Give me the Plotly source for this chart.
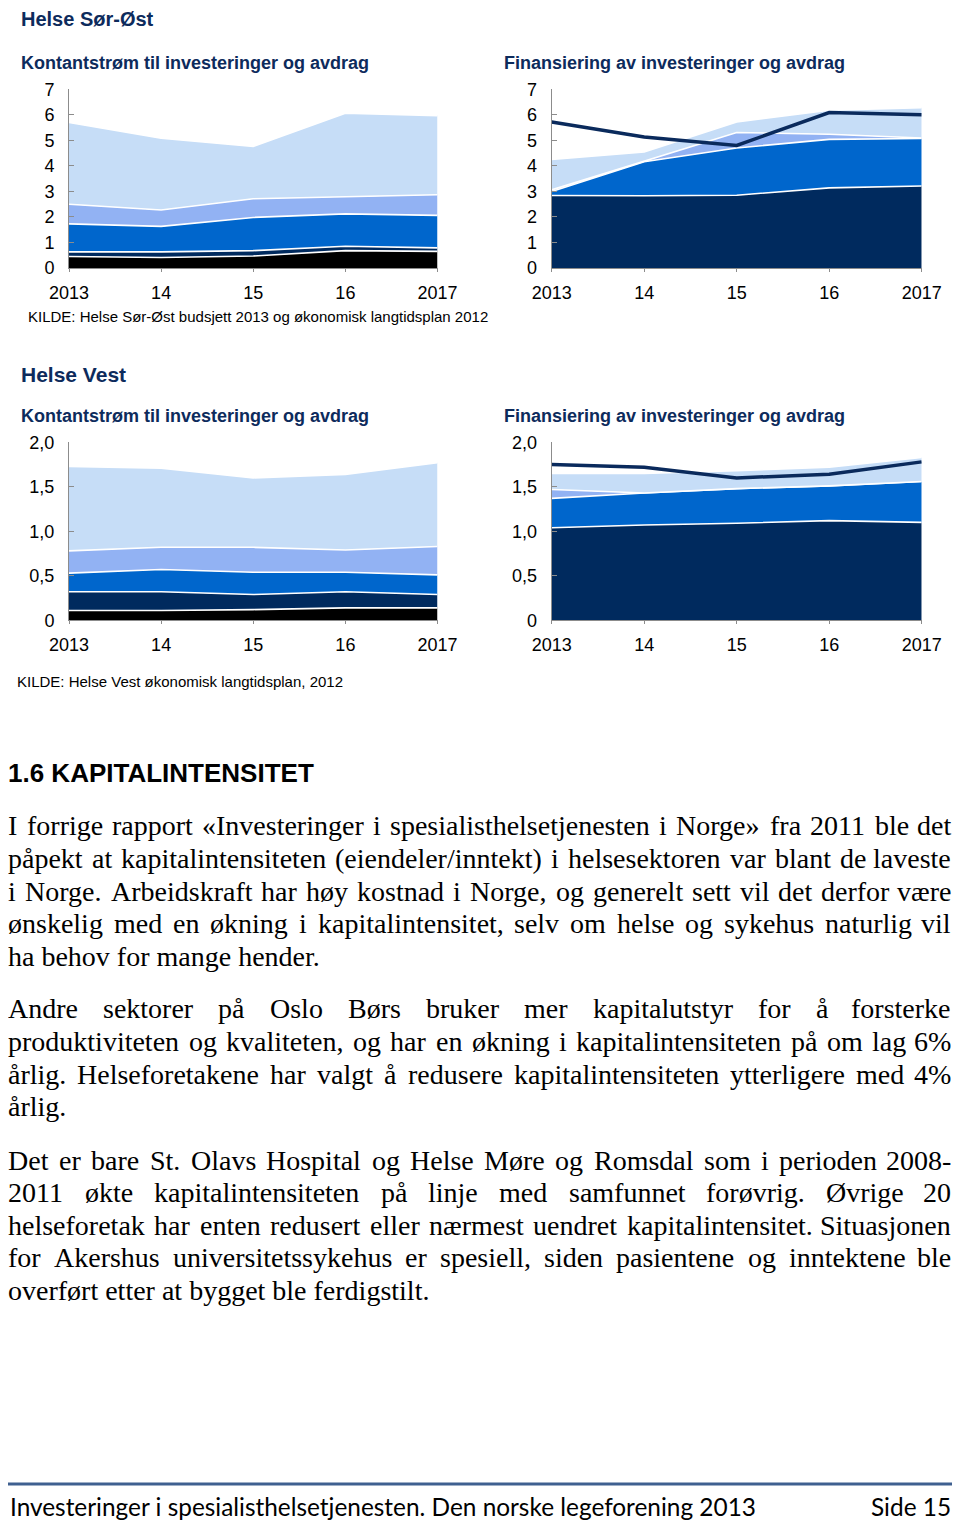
import plotly.graph_objects as go

# page is 960x1523; the html body adds an 8px margin, so the figure is 8px smaller
OFF = 8
W, H = 960 - OFF, 1523 - OFF

# ---------------- data ----------------
years = [2013, 2014, 2015, 2016, 2017]
year_labels = ["2013", "14", "15", "16", "2017"]

# Helse Sør-Øst – Kontantstrøm (layer thickness, bottom -> top)
so_cash_black = [0.45, 0.41, 0.47, 0.68, 0.65]
so_cash_navy = [0.18, 0.22, 0.21, 0.17, 0.14]
so_cash_medium = [1.10, 1.00, 1.30, 1.27, 1.27]
so_cash_peri = [0.77, 0.64, 0.73, 0.68, 0.81]
so_cash_light = [3.20, 2.81, 2.05, 3.26, 3.10]

# Helse Sør-Øst – Finansiering
so_fin_navy = [2.84, 2.83, 2.85, 3.14, 3.21]
so_fin_medium = [0.16, 1.33, 1.85, 1.90, 1.86]
so_fin_peri = [0.06, 0.03, 0.61, 0.20, 0.02]
so_fin_light = [1.19, 0.36, 0.41, 0.94, 1.19]
so_fin_line = [5.72, 5.13, 4.80, 6.09, 6.00]

# Helse Vest – Kontantstrøm
hv_cash_black = [0.11, 0.11, 0.12, 0.14, 0.14]
hv_cash_navy = [0.21, 0.21, 0.17, 0.18, 0.15]
hv_cash_medium = [0.21, 0.25, 0.25, 0.22, 0.22]
hv_cash_peri = [0.25, 0.25, 0.28, 0.25, 0.32]
hv_cash_light = [0.95, 0.89, 0.78, 0.85, 0.94]

# Helse Vest – Finansiering
hv_fin_navy = [1.04, 1.07, 1.09, 1.12, 1.10]
hv_fin_medium = [0.33, 0.36, 0.39, 0.39, 0.46]
hv_fin_peri = [0.10, 0.00, 0.00, 0.00, 0.00]
hv_fin_light = [0.18, 0.22, 0.20, 0.21, 0.27]
hv_fin_line = [1.75, 1.72, 1.60, 1.64, 1.78]

so_yticks = [0, 1, 2, 3, 4, 5, 6, 7]
so_yticktext = ["0", "1", "2", "3", "4", "5", "6", "7"]
hv_yticks = [0, 0.5, 1.0, 1.5, 2.0]
hv_yticktext = ["0", "0,5", "1,0", "1,5", "2,0"]

# ---------------- styles ----------------
C_BLACK = "#000000"
C_NAVY = "#002a5e"
C_MED = "#0066cc"
C_PERI = "#92b2f3"
C_LIGHT = "#c6ddf7"
C_LINE = "#0a2a5c"
C_TITLE = "#0d2b5c"
SANS = "Liberation Sans, Arial, sans-serif"
SERIF = "Liberation Serif, Times New Roman, serif"


def px_x(x):
    return (x - OFF) / W


def px_y(y):
    return 1 - (y - OFF) / H


fig = go.Figure()


def add_stack(xa, ya, layers, group):
    for vals, col in layers:
        fig.add_trace(go.Scatter(
            x=years, y=vals, xaxis=xa, yaxis=ya, stackgroup=group,
            mode="lines", line=dict(color="white", width=1.6),
            fillcolor=col, showlegend=False, hoverinfo="skip"))


add_stack("x", "y", [(so_cash_black, C_BLACK), (so_cash_navy, C_NAVY), (so_cash_medium, C_MED),
                     (so_cash_peri, C_PERI), (so_cash_light, C_LIGHT)], "a")
add_stack("x2", "y2", [(so_fin_navy, C_NAVY), (so_fin_medium, C_MED),
                       (so_fin_peri, C_PERI), (so_fin_light, C_LIGHT)], "b")
fig.add_trace(go.Scatter(x=years, y=so_fin_line, xaxis="x2", yaxis="y2", mode="lines",
                         line=dict(color=C_LINE, width=3.5), showlegend=False, hoverinfo="skip"))
add_stack("x3", "y3", [(hv_cash_black, C_BLACK), (hv_cash_navy, C_NAVY), (hv_cash_medium, C_MED),
                       (hv_cash_peri, C_PERI), (hv_cash_light, C_LIGHT)], "c")
add_stack("x4", "y4", [(hv_fin_navy, C_NAVY), (hv_fin_medium, C_MED),
                       (hv_fin_peri, C_PERI), (hv_fin_light, C_LIGHT)], "d")
fig.add_trace(go.Scatter(x=years, y=hv_fin_line, xaxis="x4", yaxis="y4", mode="lines",
                         line=dict(color=C_LINE, width=3.5), showlegend=False, hoverinfo="skip"))

# ---------------- axes ----------------
TICKFONT = dict(family=SANS, size=18, color="#000000")


def xaxis(dom, anchor):
    return dict(domain=dom, anchor=anchor, range=[2013, 2017], tickvals=years, ticktext=year_labels,
                showgrid=False, zeroline=False, showline=True, linecolor="#8c8c8c", linewidth=1,
                ticks="outside", ticklen=3, tickcolor="#8c8c8c", tickfont=TICKFONT,
                ticklabelstandoff=5, fixedrange=True, automargin=False)


def yaxis(dom, anchor, rng, tv, tt):
    return dict(domain=dom, anchor=anchor, range=rng, tickvals=tv, ticktext=tt,
                showgrid=False, zeroline=False, showline=True, linecolor="#8c8c8c", linewidth=1,
                ticks="inside", ticklen=5, tickcolor="#8c8c8c", tickfont=TICKFONT,
                ticklabelstandoff=10, fixedrange=True, automargin=False)


L_X = [px_x(69), px_x(437.5)]
R_X = [px_x(551.7), px_x(921.7)]
T_Y = [px_y(268), px_y(89.3)]
B_Y = [px_y(620.3), px_y(442.3)]

fig.update_layout(
    xaxis=xaxis(L_X, "y"), yaxis=yaxis(T_Y, "x", [0, 7], so_yticks, so_yticktext),
    xaxis2=xaxis(R_X, "y2"), yaxis2=yaxis(T_Y, "x2", [0, 7], so_yticks, so_yticktext),
    xaxis3=xaxis(L_X, "y3"), yaxis3=yaxis(B_Y, "x3", [0, 2], hv_yticks, hv_yticktext),
    xaxis4=xaxis(R_X, "y4"), yaxis4=yaxis(B_Y, "x4", [0, 2], hv_yticks, hv_yticktext),
)

# ---------------- text ----------------
anns = []


def text(s, x, y, size, color="#000000", family=SANS, bold=False, xanchor="left"):
    anns.append(dict(text=s, x=px_x(x), y=px_y(y), xref="paper", yref="paper",
                     xanchor=xanchor, yanchor="middle", showarrow=False,
                     font=dict(family=family, size=size, color=color,
                               weight="bold" if bold else "normal")))


text("Helse Sør-Øst", 19, 19, 20, C_TITLE, bold=True)
text("Kontantstrøm til investeringer og avdrag", 19, 63, 18, C_TITLE, bold=True)
text("Finansiering av investeringer og avdrag", 502, 63, 18, C_TITLE, bold=True)
text("KILDE: Helse Sør-Øst budsjett 2013 og økonomisk langtidsplan 2012", 26, 316, 15)
text("Helse Vest", 19, 374, 21, C_TITLE, bold=True)
text("Kontantstrøm til investeringer og avdrag", 19, 416, 18, C_TITLE, bold=True)
text("Finansiering av investeringer og avdrag", 502, 416, 18, C_TITLE, bold=True)
text("KILDE: Helse Vest økonomisk langtidsplan, 2012", 15, 681, 15)
text("1.6 KAPITALINTENSITET", 6, 773, 26, bold=True)

# Times New Roman advance widths (1/1000 em) for justification
TW = {' ': 250, ',': 250, '.': 250, '-': 333, '(': 333, ')': 333, '/': 278, '%': 833, ':': 278,
      '«': 500, '»': 500, 'å': 444, 'ø': 500, 'æ': 667, 'Ø': 722}
TW.update({d: 500 for d in "0123456789"})
TW.update(dict(zip("ABCDEFGHIJKLMNOPQRSTUVWXYZ",
                   [722, 667, 667, 722, 611, 556, 722, 722, 333, 389, 722, 611, 889, 722, 722, 556,
                    722, 667, 556, 611, 722, 722, 944, 722, 722, 611])))
TW.update(dict(zip("abcdefghijklmnopqrstuvwxyz",
                   [444, 500, 444, 500, 444, 333, 500, 500, 278, 278, 500, 278, 778, 500, 500, 500,
                    500, 333, 389, 278, 500, 500, 722, 500, 500, 444])))


def tw(s, size):
    return sum(TW.get(c, 500) for c in s) / 1000.0 * size


BODY = 28
X0, X1 = 7, 952


def body_line(s, y, justify=True):
    if not justify:
        text(s, X0 - 1, y, BODY, family=SERIF)
        return
    words = s.split(" ")
    size = BODY
    widths = [tw(w, size) for w in words]
    gap = (X1 - X0 - sum(widths)) / (len(words) - 1)
    if gap < 0.2 * size:
        em = sum(tw(w, 1) for w in words) + 0.25 * (len(words) - 1)
        size = (X1 - X0) / em
        widths = [tw(w, size) for w in words]
        gap = (X1 - X0 - sum(widths)) / (len(words) - 1)
    x = X0
    for i, (w, wd) in enumerate(zip(words, widths)):
        if i == len(words) - 1:
            text(w, X1 + 1, y, size, family=SERIF, xanchor="right")
        else:
            text(w, x - 1, y, size, family=SERIF)
        x += wd + gap


para1 = [
    "I forrige rapport «Investeringer i spesialisthelsetjenesten i Norge» fra 2011 ble det",
    "påpekt at kapitalintensiteten (eiendeler/inntekt) i helsesektoren var blant de laveste",
    "i Norge. Arbeidskraft har høy kostnad i Norge, og generelt sett vil det derfor være",
    "ønskelig med en økning i kapitalintensitet, selv om helse og sykehus naturlig vil",
    "ha behov for mange hender.",
]
para2 = [
    "Andre sektorer på Oslo Børs bruker mer kapitalutstyr for å forsterke",
    "produktiviteten og kvaliteten, og har en økning i kapitalintensiteten på om lag 6%",
    "årlig. Helseforetakene har valgt å redusere kapitalintensiteten ytterligere med 4%",
    "årlig.",
]
para3 = [
    "Det er bare St. Olavs Hospital og Helse Møre og Romsdal som i perioden 2008-",
    "2011 økte kapitalintensiteten på linje med samfunnet forøvrig. Øvrige 20",
    "helseforetak har enten redusert eller nærmest uendret kapitalintensitet. Situasjonen",
    "for Akershus universitetssykehus er spesiell, siden pasientene og inntektene ble",
    "overført etter at bygget ble ferdigstilt.",
]

for paragraph, y0 in ((para1, 826), (para2, 1009), (para3, 1160)):
    for i, line in enumerate(paragraph):
        body_line(line, y0 + i * 32.6, justify=(i < len(paragraph) - 1))

text("Investeringer i spesialisthelsetjenesten. Den norske legeforening 2013", 8, 1506, 24.4,
     family="Lato, Carlito, Calibri, sans-serif")
text("Side 15", 953, 1506, 24.4, family="Lato, Carlito, Calibri, sans-serif", xanchor="right")

fig.update_layout(
    annotations=anns,
    shapes=[dict(type="line", xref="paper", yref="paper", x0=px_x(7), x1=px_x(953),
                 y0=px_y(1484), y1=px_y(1484), line=dict(color="#3f6090", width=3))],
    width=W, height=H, margin=dict(l=0, r=0, t=0, b=0, pad=0, autoexpand=False),
    paper_bgcolor="white", plot_bgcolor="white", showlegend=False,
)

fig.write_html("out.html", config={"displayModeBar": False})
